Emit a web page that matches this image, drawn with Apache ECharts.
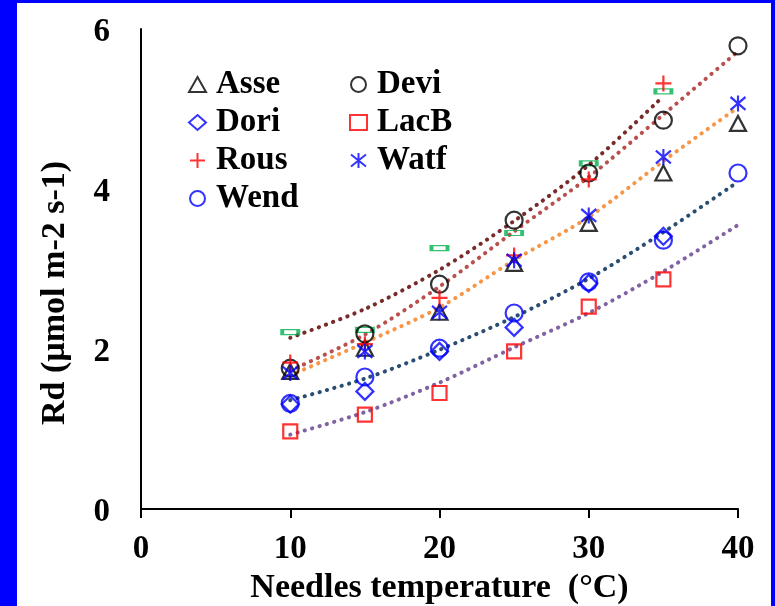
<!DOCTYPE html>
<html>
<head>
<meta charset="utf-8">
<script src="https://cdn.jsdelivr.net/npm/echarts@6/dist/echarts.min.js"></script>
<style>
html,body{margin:0;padding:0;background:#fff;}
#chart{width:775px;height:606px;}
</style>
</head>
<body>
<div id="chart"></div>
<script>
// ---- data ----
const temps = [10, 15, 20, 25, 30, 35, 40];
const asse = [1.72, 2.01, 2.46, 3.07, 3.57, 4.20, 4.82];
const devi = [1.76, 2.19, 2.81, 3.61, 4.20, 4.86, 5.79];
const dori = [1.31, 1.47, 1.97, 2.27, 2.82, 3.41, null];
const lacB = [0.97, 1.18, 1.45, 1.97, 2.53, 2.87, null];
const rous = [1.83, 2.06, 2.64, 3.17, 4.12, 5.32, null];
const watf = [1.70, 1.97, 2.46, 3.11, 3.67, 4.40, 5.07];
const wend = [1.32, 1.65, 2.01, 2.45, 2.84, 3.36, 4.20];
const other = [2.21, 2.24, 3.26, 3.45, 4.32, 5.22, null];
// trend lines (dotted)
const trendBrown  = [2.14, 2.50, 2.99, 3.60, 4.30, 5.16, null];
const trendRust   = [1.73, 2.18, 2.78, 3.47, 4.15, 4.93, 5.72];
const trendOrange = [1.67, 2.08, 2.52, 3.11, 3.65, 4.35, 5.02];
const trendNavy   = [1.36, 1.63, 1.99, 2.40, 2.88, 3.46, 4.09];
const trendPurple = [0.93, 1.21, 1.58, 2.02, 2.45, 2.97, 3.55];
const xTicks = [0, 10, 20, 30, 40];
const yTicks = [0, 2, 4, 6];

const FONT = '"Liberation Serif", "Times New Roman", serif';
function pairs(arr) {
  const out = [];
  arr.forEach((v, i) => { if (v !== null) out.push([temps[i], v]); });
  return out;
}
function trend(arr, color) {
  return {
    type: 'line', data: pairs(arr), smooth: 0.3, symbol: 'none', silent: true, z: 1,
    lineStyle: { color: color, width: 4, type: [0.3, 7.3], cap: 'round' }
  };
}
function pts(name, arr, symbol, size, color) {
  return {
    name: name, type: 'scatter', data: pairs(arr), symbol: symbol, symbolSize: size, z: 3,
    itemStyle: { color: 'rgba(0,0,0,0)', borderColor: color, borderWidth: 2.2 },
    emphasis: { disabled: true }
  };
}
const PLUS = 'path://M0,5L10,5M5,0L5,10';
const STAR = 'path://M5,0L5,10M0,1L10,9M0,9L10,1';

const chart = echarts.init(document.getElementById('chart'), null, { renderer: 'canvas' });
const legendText = { fontSize: 33, fontWeight: 'bold', fontFamily: FONT, color: '#000', lineHeight: 33, padding: [0, 0, 0, 5] };
chart.setOption({
  animation: false,
  backgroundColor: '#fff',
  grid: { left: 141, right: 37, top: 29, bottom: 97, containLabel: false, outerBoundsMode: 'none' },
  xAxis: {
    type: 'value', min: xTicks[0], max: xTicks[xTicks.length - 1], interval: 10,
    name: 'Needles temperature  (°C)', nameLocation: 'middle', nameGap: 61,
    nameTextStyle: { fontSize: 34, fontWeight: 'bold', fontFamily: FONT, color: '#000' },
    axisLine: { lineStyle: { color: '#000', width: 2 } },
    axisTick: { show: true, length: 9, lineStyle: { color: '#000', width: 2 } },
    axisLabel: { fontSize: 33, fontWeight: 'bold', fontFamily: FONT, color: '#000', margin: 24 },
    splitLine: { show: false }
  },
  yAxis: {
    type: 'value', min: yTicks[0], max: yTicks[yTicks.length - 1], interval: 2,
    name: 'Rd (µmol m-2 s-1)', nameLocation: 'middle', nameGap: 69, nameRotate: 90,
    nameTextStyle: { fontSize: 34, fontWeight: 'bold', fontFamily: FONT, color: '#000', padding: [0, 48, 0, 0] },
    axisLine: { show: true, lineStyle: { color: '#000', width: 2 } },
    axisTick: { show: false },
    axisLabel: { fontSize: 33, fontWeight: 'bold', fontFamily: FONT, color: '#000', margin: 31,
      formatter: '{a|{value}}', rich: { a: { fontSize: 33, fontWeight: 'bold', fontFamily: FONT, color: '#000', padding: [6, 0, 0, 0] } } },
    splitLine: { show: false }
  },
  legend: [
    { data: ['Asse', 'Dori', 'Rous', 'Wend'], orient: 'vertical', left: 183, top: 63,
      itemWidth: 17, itemHeight: 15, itemGap: 5, selectedMode: false, textStyle: legendText },
    { data: ['Devi', 'LacB', 'Watf'], orient: 'vertical', left: 344, top: 63,
      itemWidth: 17, itemHeight: 15, itemGap: 5, selectedMode: false, textStyle: legendText }
  ],
  graphic: [
    { type: 'rect', shape: { x: 0, y: 0, width: 17, height: 606 }, style: { fill: '#0000FF' }, z: 100 },
    { type: 'rect', shape: { x: 0, y: 0, width: 775, height: 3 }, style: { fill: '#0000FF' }, z: 100 },
    { type: 'rect', shape: { x: 771, y: 0, width: 4, height: 606 }, style: { fill: '#0000FF' }, z: 100 }
  ],
  series: [
    trend(trendBrown, '#772C2A'),
    trend(trendRust, '#B9504D'),
    trend(trendOrange, '#F79646'),
    trend(trendNavy, '#2A4E72'),
    trend(trendPurple, '#8064A2'),
    pts('other', other, 'rect', [16, 5], '#00B050'),
    pts('Asse', asse, 'triangle', [16, 15], '#000'),
    pts('Devi', devi, 'circle', 17, '#000'),
    pts('Dori', dori, 'diamond', 17, '#0000FF'),
    pts('LacB', lacB, 'rect', 14, '#FF0000'),
    pts('Rous', rous, PLUS, 16, '#FF0000'),
    pts('Watf', watf, STAR, [15, 16], '#0000FF'),
    pts('Wend', wend, 'circle', 17, '#0000FF')
  ]
});
</script>
</body>
</html>
